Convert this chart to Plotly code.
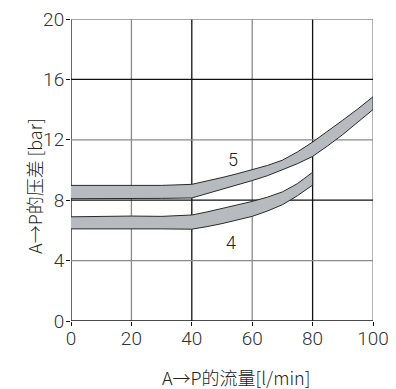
import plotly.graph_objects as go

flow5 = [0, 10, 20, 30, 40, 45, 50, 55, 60, 65, 70, 75, 80, 85, 90, 95, 100]
upper5 = [8.98, 8.98, 8.97, 8.98, 9.05, 9.25, 9.5, 9.75, 10.02, 10.3, 10.65, 11.2, 11.85, 12.55, 13.3, 14.05, 14.85]
lower5 = [8.1, 8.1, 8.1, 8.12, 8.15, 8.4, 8.7, 9.0, 9.3, 9.62, 10.0, 10.42, 10.9, 11.6, 12.35, 13.15, 14.0]

flow4 = [0, 10, 20, 30, 40, 45, 50, 55, 60, 65, 70, 75, 80]
upper4 = [6.9, 6.93, 6.95, 6.93, 7.02, 7.22, 7.45, 7.68, 7.92, 8.2, 8.55, 9.1, 9.85]
lower4 = [6.1, 6.1, 6.12, 6.1, 6.08, 6.25, 6.45, 6.68, 6.93, 7.28, 7.7, 8.3, 9.0]

band_labels = ["5", "4"]
label_pos = [(53.6, 10.7), (53.0, 5.2)]

x_ticks = [0, 20, 40, 60, 80, 100]
y_ticks = [0, 4, 8, 12, 16, 20]
x_dark = [0, 40, 80]
y_dark = [0, 8, 16]

x_title = "A→P的流量[l/min]"
y_title = "A→P的压差 [bar]"

FILL = "#b7bbc0"
EDGE = "#2a2a2a"
DARK = "#111111"
GRAY = "#8a8a8a"
NUMFONT = "Roboto, sans-serif"
TICKFONT = dict(family=NUMFONT, size=19, color="#333333", weight=300)

fig = go.Figure()

for fx, up, lo in [(flow5, upper5, lower5), (flow4, upper4, lower4)]:
    fig.add_trace(go.Scatter(
        x=fx + fx[::-1], y=up + lo[::-1],
        fill="toself", fillcolor=FILL, mode="lines",
        line=dict(color=EDGE, width=1), hoverinfo="skip", showlegend=False))

# grid
for xv in x_ticks:
    fig.add_shape(type="line", xref="x", yref="paper", x0=xv, x1=xv, y0=0, y1=1,
                  line=dict(color=DARK if xv in x_dark else GRAY, width=1.3), layer="below")
for yv in y_ticks:
    fig.add_shape(type="line", xref="paper", yref="y", x0=0, x1=1, y0=yv, y1=yv,
                  line=dict(color=DARK if yv in y_dark else GRAY, width=1.3), layer="below")

for lab, (lx, ly) in zip(band_labels, label_pos):
    fig.add_annotation(x=lx, y=ly, text=lab, showarrow=False,
                       font=dict(family=NUMFONT, size=18, color="#222222", weight=300))

fig.add_annotation(xref="paper", yref="paper", x=0.547, y=-0.187, text=x_title,
                   showarrow=False, xanchor="center", yanchor="middle",
                   font=dict(family="Noto Sans CJK SC, sans-serif", size=18, color="#222222", weight=300))
fig.add_annotation(xref="paper", yref="paper", x=-0.125, y=0.448, text=y_title,
                   showarrow=False, textangle=-90, xanchor="center", yanchor="middle",
                   font=dict(family="Noto Sans CJK SC, sans-serif", size=18, color="#222222", weight=300))

fig.update_xaxes(range=[0, 100], tickvals=x_ticks, showgrid=False, zeroline=False, automargin=False,
                 ticks="outside", ticklen=4, tickcolor=DARK, tickfont=TICKFONT, showline=False,
                 ticklabelstandoff=-4, ticklabeloverflow="allow")
fig.update_yaxes(range=[0, 20], tickvals=y_ticks, showgrid=False, zeroline=False, automargin=False,
                 ticks="outside", ticklen=4, tickcolor=DARK, tickfont=TICKFONT, showline=False,
                 ticklabelstandoff=-2, ticklabeloverflow="allow")

# page body has an 8px margin, so the figure is sized/offset to land the plot area where the reference has it
fig.update_layout(width=388, height=381, margin=dict(l=62.5, r=23, t=11, b=67.5, autoexpand=False),
                  paper_bgcolor="white", plot_bgcolor="white")

fig.write_html("out.html")
